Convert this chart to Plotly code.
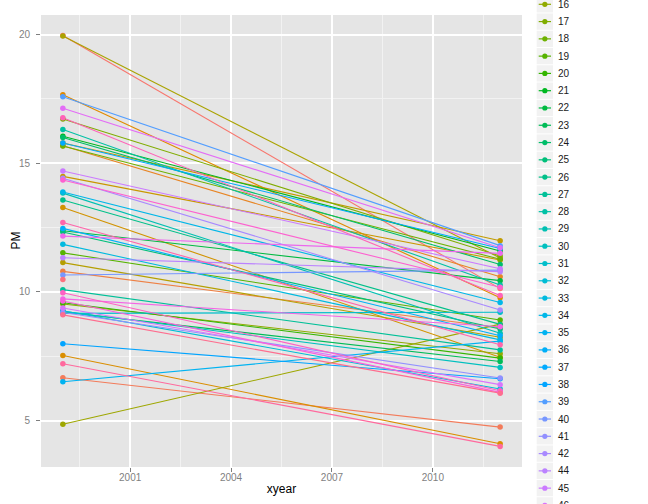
import math
import plotly.graph_objects as go

# ---------------- data ----------------
years = [1999, 2012]
states = [1, 2, 4, 5, 6, 8, 9, 10, 11, 12, 13, 15, 16, 17, 18, 19, 20, 21, 22, 23,
          24, 25, 26, 27, 28, 29, 30, 31, 32, 33, 34, 35, 36, 37, 38, 39, 40, 41,
          42, 44, 45, 46, 47, 48, 49, 50, 51, 53, 54, 55, 56, 72, 78]
pm1999 = [19.96, 6.67, 10.80, 15.68, 17.66, 7.53, 13.28, 14.49, 15.79, 11.14,
          19.94, 4.86, 9.53, 16.72, 15.67, 11.52, 9.58, 16.05, 12.38, 9.22,
          16.00, 12.33, 13.57, 10.09, 16.31, 13.84, 9.25, 9.17, 9.27, 11.85,
          13.88, 6.51, 12.47, 15.79, 7.99, 17.58, 10.66, 9.20, 14.42, 11.33,
          14.70, 9.38, 17.14, 12.17, 9.73, 9.65, 14.35, 9.97, 16.77, 12.70,
          7.21, 9.11, 10.48]
pm2012 = [10.13, 4.75, 8.61, 10.59, 9.78, 4.10, 7.46, 11.24, 11.99, 8.24,
          11.32, 8.75, 7.60, 11.40, 11.27, 8.91, 7.43, 11.59, 10.44, 7.30,
          11.07, 8.56, 8.74, 7.75, 10.27, 8.40, 7.07, 9.21, 6.23, 8.14,
          9.59, 8.09, 8.30, 11.69, 6.63, 11.80, 10.85, 6.66, 9.30, 10.79,
          10.90, 6.40, 11.72, 11.50, 8.65, 6.10, 10.18, 6.16, 9.86, 7.95,
          4.00, 6.07, None]
x_ticks = [2001, 2004, 2007, 2010]
y_ticks = [5, 10, 15, 20]


# ggplot2 default hue palette (hcl, c=100, l=65)
def hcl_hex(h, c=100.0, l=65.0):
    Xn, Yn, Zn = 95.047, 100.0, 108.883
    hr = math.radians(h)
    u, v = c * math.cos(hr), c * math.sin(hr)
    Y = Yn * ((l + 16) / 116) ** 3 if l > 8 else Yn * l / 903.3
    den = Xn + 15 * Yn + 3 * Zn
    un, vn = 4 * Xn / den, 9 * Yn / den
    up, vp = u / (13 * l) + un, v / (13 * l) + vn
    X = 9.0 * Y * up / (4 * vp)
    Z = -X / 3 - 5 * Y + 3 * Y / vp
    X, Y, Z = X / 100, Y / 100, Z / 100
    r = 3.240479 * X - 1.537150 * Y - 0.498535 * Z
    g = -0.969256 * X + 1.875992 * Y + 0.041556 * Z
    b = 0.055648 * X - 0.204043 * Y + 1.057311 * Z

    def gam(t):
        t = 12.92 * t if t <= 0.0031308 else 1.055 * t ** (1 / 2.4) - 0.055
        return int(round(max(0.0, min(1.0, t)) * 255))
    return "#%02X%02X%02X" % (gam(r), gam(g), gam(b))


n = len(states)
colors = [hcl_hex(15 + i * 360.0 / n) for i in range(n)]

fig = go.Figure()

# lines first
for s, a, b, col in zip(states, pm1999, pm2012, colors):
    fig.add_trace(go.Scatter(x=years, y=[a, b], mode="lines",
                             line=dict(color=col, width=1.1),
                             showlegend=False, hoverinfo="skip"))
# points on top
for s, a, b, col in zip(states, pm1999, pm2012, colors):
    fig.add_trace(go.Scatter(x=years, y=[a, b], mode="markers",
                             marker=dict(color=col, size=5.5),
                             name=str(s), showlegend=False))

# ---------------- layout ----------------
W, H = 648, 504
ML, MT = 41, 15
PW, PH = 481, 452
MR, MB = W - ML - PW, H - MT - PH

grey50 = "#7F7F7F"
fig.update_layout(
    width=W, height=H,
    margin=dict(l=ML, r=MR, t=MT, b=MB, pad=0),
    paper_bgcolor="white",
    plot_bgcolor="#E5E5E5",
    font=dict(family="Liberation Sans, Arial, sans-serif", color="black"),
    showlegend=False,
)
fig.update_xaxes(
    automargin=False,
    range=[1998.35, 2012.65], tickvals=x_ticks, ticktext=[str(t) for t in x_ticks],
    showgrid=True, gridcolor="white", gridwidth=1.6, zeroline=False,
    ticks="outside", ticklen=4, tickcolor=grey50, tickwidth=1,
    ticklabelstandoff=-3,
    tickfont=dict(size=10, color=grey50),
    minor=dict(tickvals=[1999.5, 2002.5, 2005.5, 2008.5, 2011.5], showgrid=True,
               gridcolor="#F2F2F2", gridwidth=0.8, ticks=""),
    title=dict(text="xyear", font=dict(size=12, color="black"), standoff=2),
    showline=False,
)
fig.update_yaxes(
    automargin=False,
    range=[3.2, 20.76], tickvals=y_ticks, ticktext=[str(t) for t in y_ticks],
    showgrid=True, gridcolor="white", gridwidth=1.6, zeroline=False,
    ticks="outside", ticklen=4, tickcolor=grey50, tickwidth=1,
    ticklabelstandoff=4,
    tickfont=dict(size=10, color=grey50),
    minor=dict(tickvals=[7.5, 12.5, 17.5], showgrid=True,
               gridcolor="#F2F2F2", gridwidth=0.8, ticks=""),
    showline=False,
)


# ---------------- manual legend (ggplot style, overflowing the page) ----------
def px2x(px):  # page px -> paper
    return (px - ML) / PW


def py2y(py):
    return (H - MB - py) / PH


shapes = []
annotations = [dict(text="PM", xref="paper", yref="paper", x=px2x(15.5),
                    y=0.5, xanchor="center", yanchor="middle", textangle=-90,
                    showarrow=False, font=dict(size=12, color="black"))]

step = 17.28
ref_index = states.index(16)
ref_y = 4.3
key_l, key_r = 536.7, 553.0
for i, (s, col) in enumerate(zip(states, colors)):
    cy = ref_y + (i - ref_index) * step
    if cy < -12 or cy > H + 12:
        continue
    shapes.append(dict(type="rect", xref="paper", yref="paper",
                       x0=px2x(key_l), x1=px2x(key_r),
                       y0=py2y(cy - step / 2 + 0.5), y1=py2y(cy + step / 2 - 0.5),
                       fillcolor="#F2F2F2", line=dict(width=0), layer="above"))
    shapes.append(dict(type="line", xref="paper", yref="paper",
                       x0=px2x(key_l + 2), x1=px2x(key_r - 2),
                       y0=py2y(cy), y1=py2y(cy),
                       line=dict(color=col, width=1.2), layer="above"))
    shapes.append(dict(type="circle", xref="paper", yref="paper",
                       x0=px2x(544.85 - 2.6), x1=px2x(544.85 + 2.6),
                       y0=py2y(cy - 2.6), y1=py2y(cy + 2.6),
                       fillcolor=col, line=dict(width=0), layer="above"))
    annotations.append(dict(text=str(s), xref="paper", yref="paper",
                            x=px2x(555.5), y=py2y(cy), xanchor="left",
                            yanchor="middle", showarrow=False,
                            font=dict(size=10, color="#1A1A1A")))

fig.update_layout(shapes=shapes, annotations=annotations)

# remove the default 8px page margin so the figure fills the window exactly
fig.write_html("out.html",
               config={"displayModeBar": False},
               post_script="document.body.style.margin='0px';"
                           "document.body.style.overflow='hidden';")
